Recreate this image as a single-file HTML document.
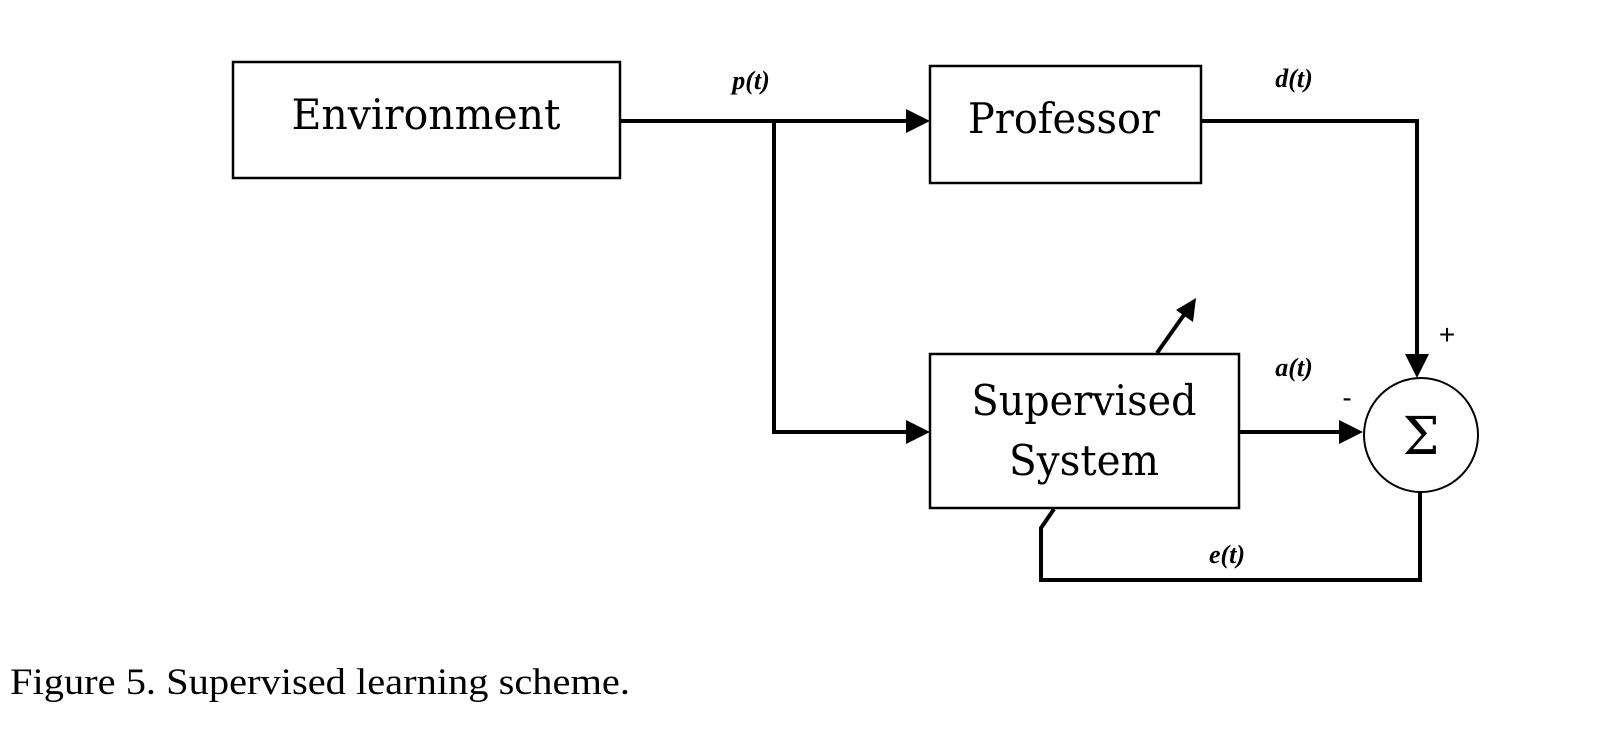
<!DOCTYPE html>
<html><head><style>
html,body{margin:0;padding:0;background:#fff;width:1618px;height:738px;overflow:hidden}
svg{position:absolute;left:0;top:0}
</style></head><body>
<svg width="1618" height="738" viewBox="0 0 1618 738" xmlns="http://www.w3.org/2000/svg">
<g transform="translate(-4,-1)">
<g fill="none" stroke="#000">
<rect x="237" y="63" width="387" height="116" stroke-width="2.5"/>
<rect x="934" y="67" width="271" height="117" stroke-width="2.5"/>
<rect x="934" y="355" width="309" height="154" stroke-width="2.5"/>
<circle cx="1425" cy="436" r="57" stroke-width="2"/>
<g stroke-width="4">
<line x1="624" y1="122" x2="912" y2="122"/>
<polyline points="778,122 778,433 912,433"/>
<polyline points="1205,122 1421,122 1421,358"/>
<line x1="1243" y1="433" x2="1346" y2="433"/>
<polyline points="1424,493 1424,581 1045,581 1045,529 1058,510"/>
<line x1="1161" y1="354" x2="1190" y2="313"/>
</g>
</g>
<g fill="#000">
<polygon points="934,122 910,110 910,134"/>
<polygon points="934,433 910,421 910,445"/>
<polygon points="1367,433 1343,421 1343,445"/>
<polygon points="1421,379 1409,355 1433,355"/>
<polygon points="1200,299 1180,311 1197,323"/>
</g>
<g font-family="'DejaVu Serif','Liberation Serif',serif" fill="#000">
<text x="430" y="130" font-size="42" text-anchor="middle" textLength="269" lengthAdjust="spacingAndGlyphs">Environment</text>
<text x="1068" y="134" font-size="42" text-anchor="middle" textLength="192" lengthAdjust="spacingAndGlyphs">Professor</text>
<text x="1088" y="416" font-size="42" text-anchor="middle" textLength="225" lengthAdjust="spacingAndGlyphs">Supervised</text>
<text x="1088" y="476" font-size="42" text-anchor="middle" textLength="150" lengthAdjust="spacingAndGlyphs">System</text>
<text x="1425" y="455" font-size="52" text-anchor="middle">Σ</text>
</g>
<g font-family="'Liberation Serif',serif" font-style="italic" font-weight="bold" font-size="26" fill="#000" text-anchor="middle">
<text x="755" y="90">p(t)</text>
<text x="1298" y="88">d(t)</text>
<text x="1298" y="377">a(t)</text>
<text x="1231" y="564">e(t)</text>
</g>
<g font-family="'Liberation Sans',sans-serif" font-size="28" fill="#000" text-anchor="middle">
<text x="1451" y="345">+</text>
<text x="1351" y="408">-</text>
</g>
</g>
<text x="10" y="694" font-family="'Liberation Serif',serif" font-size="37" fill="#000" textLength="620" lengthAdjust="spacingAndGlyphs">Figure 5. Supervised learning scheme.</text>
</svg>
</body></html>
